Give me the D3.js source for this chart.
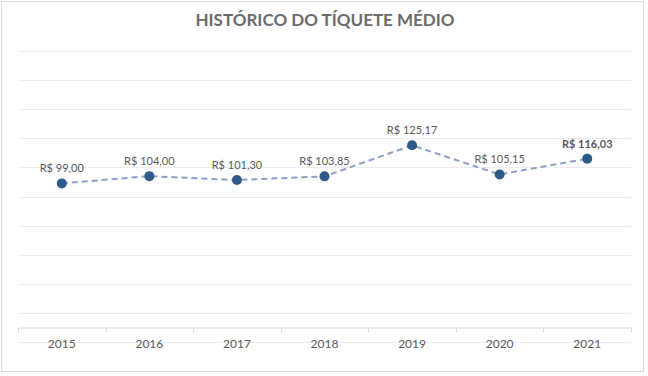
<!DOCTYPE html>
<html>
<head>
<meta charset="utf-8">
<script src="https://cdn.jsdelivr.net/npm/d3@7"></script>
<style>
  html, body { margin: 0; padding: 0; background: #fff; }
  svg { display: block; font-family: Lato, "Open Sans", sans-serif; }
</style>
</head>
<body>
<div id="chart"></div>
<script>
// dados do gráfico
const anos = ["2015", "2016", "2017", "2018", "2019", "2020", "2021"];
const ticket = [99.00, 104.00, 101.30, 103.85, 125.17, 105.15, 116.03];
const gradeY = [-10, 10, 30, 50, 70, 90, 110, 130, 150, 170, 190];

const width = 648, height = 376;
const svg = d3.select("#chart").append("svg").attr("width", width).attr("height", height);

// moldura
svg.append("rect").attr("x", 1.5).attr("y", 1.5).attr("width", width - 6).attr("height", height - 6)
    .attr("fill", "#fff").attr("stroke", "#d9d9d9").attr("stroke-width", 1);

svg.append("text").attr("x", 325).attr("y", 26).attr("text-anchor", "middle")
    .style("font-size", "17px").style("font-weight", "bold").style("fill", "#6b6b6b")
    .text("HISTÓRICO DO TÍQUETE MÉDIO");

const x = d3.scaleBand().domain(anos).range([18, 631]);
const y = d3.scaleLinear().domain([-10, 190]).range([342, 51]);

svg.append("g").selectAll("line").data(gradeY).join("line")
    .attr("x1", 18).attr("x2", 631)
    .attr("y1", d => Math.round(y(d)) + 0.5).attr("y2", d => Math.round(y(d)) + 0.5)
    .attr("stroke", "#ececec").attr("stroke-width", 1);

// eixo x em zero
const eixo = svg.append("g").attr("transform", `translate(0,${Math.round(y(0)) + 0.5})`)
    .call(d3.axisBottom(x).tickSize(0).tickPadding(12));
eixo.select(".domain").attr("stroke", "#d9d9d9");
eixo.selectAll("text").style("font-size", "12px").style("fill", "#595959").style("font-family", "Lato, sans-serif");
const bordas = d3.range(anos.length + 1).map(i => x.range()[0] + i * x.step());
eixo.selectAll(".sep").data(bordas).join("line").attr("class", "sep")
    .attr("x1", d => Math.round(d) + 0.5).attr("x2", d => Math.round(d) + 0.5)
    .attr("y1", 0).attr("y2", 5).attr("stroke", "#d9d9d9");

const cx = d => x(d) + x.bandwidth() / 2;
const line = d3.line().x((d, i) => cx(anos[i])).y(d => y(d));

svg.append("path").datum(ticket).attr("d", line)
    .attr("fill", "none").attr("stroke", "#8e9fc5").attr("stroke-width", 2).attr("stroke-dasharray", "6,4");

svg.append("g").selectAll("circle").data(ticket).join("circle")
    .attr("cx", (d, i) => cx(anos[i])).attr("cy", d => y(d)).attr("r", 5)
    .attr("fill", "#2e5a88");

const fmt = v => "R$ " + v.toFixed(2).replace(".", ",");
svg.append("g").selectAll("text").data(ticket).join("text")
    .attr("x", (d, i) => cx(anos[i])).attr("y", d => y(d) - 11)
    .attr("text-anchor", "middle")
    .style("font-size", "11px").style("fill", "#595959")
    .style("font-weight", (d, i) => i === ticket.length - 1 ? "bold" : "normal")
    .text(fmt);
</script>
</body>
</html>
